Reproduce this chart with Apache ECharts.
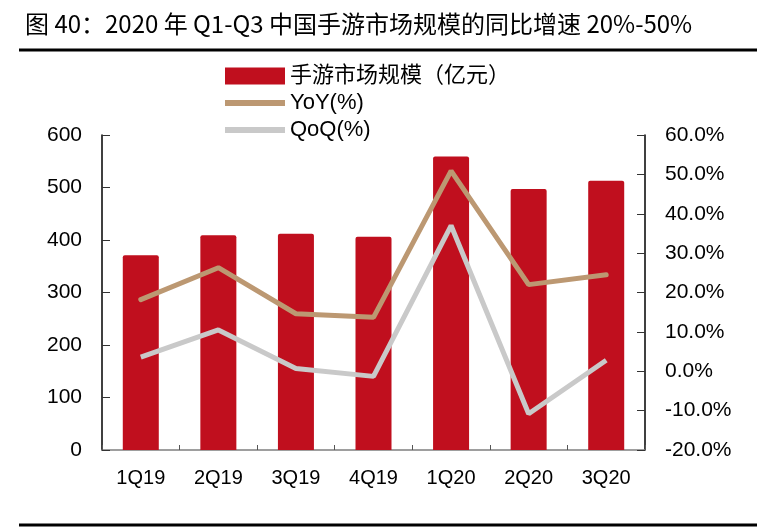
<!DOCTYPE html>
<html>
<head>
<meta charset="utf-8">
<script src="https://cdn.jsdelivr.net/npm/echarts@6/dist/echarts.min.js"></script>
<style>
  html, body { margin: 0; padding: 0; background: #fff; }
  #main { width: 776px; height: 529px; }
</style>
</head>
<body>
<div id="main"></div>
<script>
// 季度
var quarters = ['1Q19', '2Q19', '3Q19', '4Q19', '1Q20', '2Q20', '3Q20'];
// 手游市场规模（亿元）
var marketSize = [371, 409, 412, 406, 559, 497, 513];
// 同比 (%)
var yoy = [18.2, 26.3, 14.6, 13.7, 50.9, 22.0, 24.5];
// 环比 (%)
var qoq = [3.6, 10.5, 0.7, -1.3, 37.0, -10.8, 2.8];

var numFont = '"Liberation Sans", Arial, sans-serif';
var cjkFont = '"Noto Sans CJK SC", "Liberation Sans", sans-serif';
var mixFont = '"Liberation Sans", "Noto Sans CJK SC", sans-serif';
// 图例里的粗线
var lineIcon = 'path://M0,0 H60 V6 H0 Z';

var myChart = echarts.init(document.getElementById('main'));

var option = {
	backgroundColor: '#fff',
	animation: false,
	title: {
		text: '图 40：2020 年 Q1-Q3 中国手游市场规模的同比增速 20%-50%',
		left: 20,
		top: 7,
		textStyle: {
			fontFamily: cjkFont,
			fontSize: 24,
			fontWeight: 'normal',
			color: '#000'
		}
	},
	// 标题下方和底部的分隔线
	graphic: [{
		type: 'line',
		shape: { x1: 19, y1: 50, x2: 757, y2: 50 },
		style: { stroke: '#000', lineWidth: 3 }
	}, {
		type: 'line',
		shape: { x1: 19, y1: 525, x2: 757, y2: 525 },
		style: { stroke: '#000', lineWidth: 3 }
	}],
	legend: {
		orient: 'vertical',
		left: 220,
		top: 60,
		itemWidth: 60,
		itemHeight: 17,
		itemGap: 5,
		textStyle: {
			fontFamily: mixFont,
			fontSize: 22,
			color: '#000'
		},
		data: [
			{ name: '手游市场规模（亿元）', icon: 'rect' },
			{ name: 'YoY(%)', icon: lineIcon },
			{ name: 'QoQ(%)', icon: lineIcon }
		]
	},
	grid: {
		left: 102,
		right: 131,
		top: 135,
		bottom: 79
	},
	xAxis: {
		type: 'category',
		data: quarters,
		axisLine: { lineStyle: { color: '#7f7f7f', width: 1.5 } },
		axisTick: { show: true, inside: true, length: 5, lineStyle: { color: '#555' } },
		axisLabel: {
			margin: 18,
			fontFamily: numFont,
			fontSize: 20,
			color: '#000'
		}
	},
	yAxis: [{
		type: 'value',
		min: 0,
		max: 600,
		interval: 100,
		splitLine: { show: false },
		axisLine: { show: true, lineStyle: { color: '#000', width: 1.5 } },
		axisTick: { show: true, inside: true, length: 8, lineStyle: { color: '#333' } },
		axisLabel: {
			margin: 20,
			fontFamily: numFont,
			fontSize: 21,
			color: '#000'
		}
	}, {
		type: 'value',
		min: -20,
		max: 60,
		interval: 10,
		splitLine: { show: false },
		axisLine: { show: true, lineStyle: { color: '#000', width: 1.5 } },
		axisTick: { show: true, inside: true, length: 8, lineStyle: { color: '#333' } },
		axisLabel: {
			margin: 20,
			fontFamily: numFont,
			fontSize: 21,
			color: '#000',
			formatter: function (v) { return v.toFixed(1) + '%'; }
		}
	}],
	series: [{
		name: '手游市场规模（亿元）',
		type: 'bar',
		data: marketSize,
		barWidth: 36,
		itemStyle: {
			color: '#C00F1E',
			borderRadius: [2, 2, 0, 0]
		}
	}, {
		name: 'YoY(%)',
		type: 'line',
		yAxisIndex: 1,
		data: yoy,
		symbol: 'none',
		lineStyle: { color: '#BC9872', width: 5, cap: 'round' },
		itemStyle: { color: '#BC9872' }
	}, {
		name: 'QoQ(%)',
		type: 'line',
		yAxisIndex: 1,
		data: qoq,
		symbol: 'none',
		lineStyle: { color: '#C9C9C9', width: 5 },
		itemStyle: { color: '#C9C9C9' }
	}]
};

myChart.setOption(option);
</script>
</body>
</html>
